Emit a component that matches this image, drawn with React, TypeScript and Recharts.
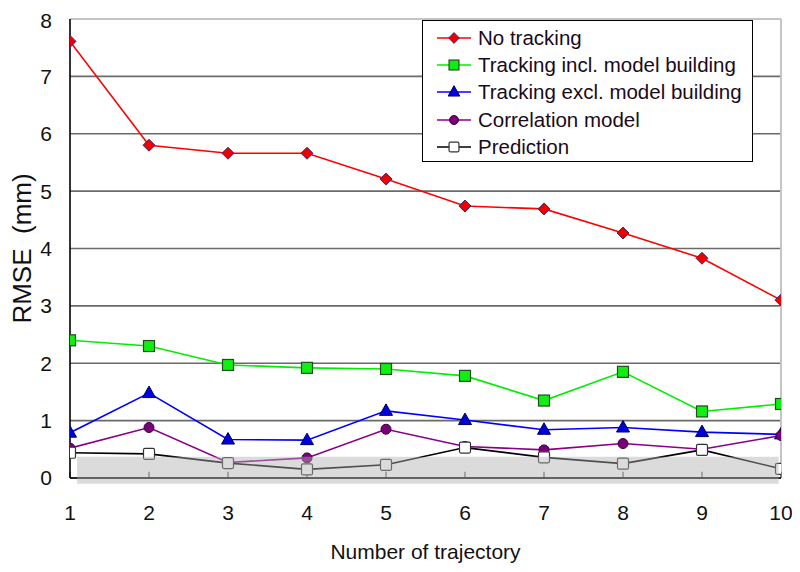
import React from 'react';
import { LineChart, Line, XAxis, YAxis, CartesianGrid, ReferenceArea, ReferenceLine, Legend } from 'recharts';

const trajectories = [1, 2, 3, 4, 5, 6, 7, 8, 9, 10];
const noTracking = [7.61, 5.8, 5.66, 5.66, 5.21, 4.74, 4.69, 4.27, 3.83, 3.1];
const trackingIncl = [2.4, 2.3, 1.97, 1.92, 1.9, 1.78, 1.35, 1.85, 1.16, 1.29];
const trackingExcl = [0.79, 1.48, 0.67, 0.66, 1.17, 1.01, 0.84, 0.88, 0.8, 0.76];
const correlation = [0.52, 0.88, 0.27, 0.35, 0.85, 0.55, 0.49, 0.6, 0.5, 0.74];
const prediction = [0.44, 0.42, 0.26, 0.15, 0.23, 0.53, 0.36, 0.25, 0.49, 0.16];
const yTicks = [0, 1, 2, 3, 4, 5, 6, 7, 8];
const bandX = [1.09, 9.97];
const bandY = [-0.1, 0.37];

const data = trajectories.map((t, i) => ({
  t,
  noTracking: noTracking[i],
  trackingIncl: trackingIncl[i],
  trackingExcl: trackingExcl[i],
  correlation: correlation[i],
  prediction: prediction[i],
}));

const FONT = '"Liberation Sans", Arial, sans-serif';

type Shape = 'diamond' | 'square' | 'triangle' | 'circle' | 'open';

const series: { key: string; name: string; color: string; shape: Shape; fill: string; stroke: string }[] = [
  { key: 'noTracking', name: 'No tracking', color: '#ff0000', shape: 'diamond', fill: '#ee0000', stroke: '#3a2a7a' },
  { key: 'trackingIncl', name: 'Tracking incl. model building', color: '#00ee00', shape: 'square', fill: '#11ee11', stroke: '#1f4f1f' },
  { key: 'trackingExcl', name: 'Tracking excl. model building', color: '#0000ff', shape: 'triangle', fill: '#0000dd', stroke: '#000060' },
  { key: 'correlation', name: 'Correlation model', color: '#880088', shape: 'circle', fill: '#7a007a', stroke: '#3a003a' },
  { key: 'prediction', name: 'Prediction', color: '#000000', shape: 'open', fill: '#ffffff', stroke: '#333333' },
];

function Marker({ cx, cy, shape, fill, stroke, s = 1 }: { cx: number; cy: number; shape: Shape; fill: string; stroke: string; s?: number }) {
  if (cx == null || cy == null) return null;
  switch (shape) {
    case 'diamond': {
      const r = 6 * s;
      return <polygon points={`${cx},${cy - r} ${cx + r},${cy} ${cx},${cy + r} ${cx - r},${cy}`} fill={fill} stroke={stroke} strokeWidth={1} />;
    }
    case 'square':
    case 'open': {
      const h = 5.5 * s;
      return <rect x={cx - h} y={cy - h} width={2 * h} height={2 * h} rx={shape === 'open' ? 1.5 : 0} fill={fill} stroke={stroke} strokeWidth={1.2} />;
    }
    case 'triangle': {
      const w = 6.5 * s;
      return <polygon points={`${cx},${cy - 7 * s} ${cx + w},${cy + 4.5 * s} ${cx - w},${cy + 4.5 * s}`} fill={fill} stroke={stroke} strokeWidth={1} />;
    }
    case 'circle':
    default:
      return <circle cx={cx} cy={cy} r={5 * s} fill={fill} stroke={stroke} strokeWidth={1} />;
  }
}

const LegendBox = () => (
  <div
    style={{
      border: '1px solid #000',
      background: '#fff',
      padding: '3px 0 0 14px',
      height: 137,
      boxSizing: 'content-box',
      fontFamily: FONT,
      fontSize: 20.5,
      color: '#1a0a1a',
    }}
  >
    {series.map((s) => (
      <div key={s.key} style={{ height: 27.3, display: 'flex', alignItems: 'center', whiteSpace: 'nowrap' }}>
        <svg width={34} height={16} style={{ marginRight: 7, flex: 'none' }}>
          <line x1={0} y1={8} x2={34} y2={8} stroke={s.color} strokeWidth={1.6} />
          <Marker cx={17} cy={8} shape={s.shape} fill={s.fill} stroke={s.stroke} s={0.9} />
        </svg>
        <span>{s.name}</span>
      </div>
    ))}
  </div>
);

export default function App() {
  return (
    <LineChart width={784} height={556} data={data} margin={{ top: 11, right: 11, bottom: 26, left: 2 }}>
      <CartesianGrid vertical={false} stroke="#6a6a6a" strokeWidth={1.6} />
      <ReferenceLine y={8} stroke="#c4c4c4" strokeWidth={2} />
      <ReferenceLine x={10} stroke="#c4c4c4" strokeWidth={2} />
      <XAxis
        type="number"
        dataKey="t"
        domain={[1, 10]}
        ticks={trajectories}
        allowDataOverflow
        height={60}
        tickLine={false}
        tickSize={0}
        tickMargin={27}
        axisLine={{ stroke: '#000', strokeWidth: 1.6 }}
        tick={{ fontSize: 21, fill: '#111', fontFamily: FONT }}
        label={{
          content: (props: any) => {
            const vb = props.viewBox || { x: 0, y: 0, width: 0, height: 0 };
            return (
              <text x={vb.x + vb.width / 2} y={vb.y + 81} textAnchor="middle" fontSize={21} fontFamily={FONT} fill="#111">
                Number of trajectory
              </text>
            );
          },
        }}
      />
      <YAxis
        domain={[0, 8]}
        ticks={yTicks}
        width={60}
        tickLine={false}
        tickSize={0}
        tickMargin={18}
        axisLine={{ stroke: '#000', strokeWidth: 1.6 }}
        tick={{ fontSize: 21, fill: '#111', fontFamily: FONT }}
        label={{
          content: (props: any) => {
            const vb = props.viewBox || { x: 0, y: 0, width: 0, height: 0 };
            const cx = vb.x + 12;
            const cy = vb.y + vb.height / 2;
            return (
              <text
                x={cx}
                y={cy}
                transform={`rotate(-90 ${cx} ${cy})`}
                textAnchor="middle"
                dominantBaseline="central"
                fontSize={26}
                fontFamily={FONT}
                fill="#111"
                style={{ whiteSpace: 'pre' }}
              >
                {'RMSE  (mm)'}
              </text>
            );
          },
        }}
      />
      {trajectories.map((t) => (
        <ReferenceLine
          key={`tk${t}`}
          segment={[
            { x: t, y: 0 },
            { x: t, y: 0.11 },
          ]}
          stroke="#555"
          strokeWidth={1.2}
        />
      ))}
      <Legend
        layout="vertical"
        align="center"
        verticalAlign="middle"
        content={<LegendBox />}
        wrapperStyle={{ position: 'absolute', left: 414, top: 12, width: 331 }}
      />
      {series.map((s) => (
        <Line
          key={s.key}
          dataKey={s.key}
          name={s.name}
          stroke={s.color}
          strokeWidth={1.6}
          isAnimationActive={false}
          dot={(p: any) => <Marker key={`${s.key}-${p.index}`} cx={p.cx} cy={p.cy} shape={s.shape} fill={s.fill} stroke={s.stroke} />}
          activeDot={false}
        />
      ))}
      <ReferenceArea
        x1={bandX[0]}
        x2={bandX[1]}
        y1={bandY[0]}
        y2={bandY[1]}
        ifOverflow="visible"
        fill="#b0b0b0"
        fillOpacity={0.45}
        stroke="none"
        {...({ zIndex: 1500 } as any)}
      />
    </LineChart>
  );
}
